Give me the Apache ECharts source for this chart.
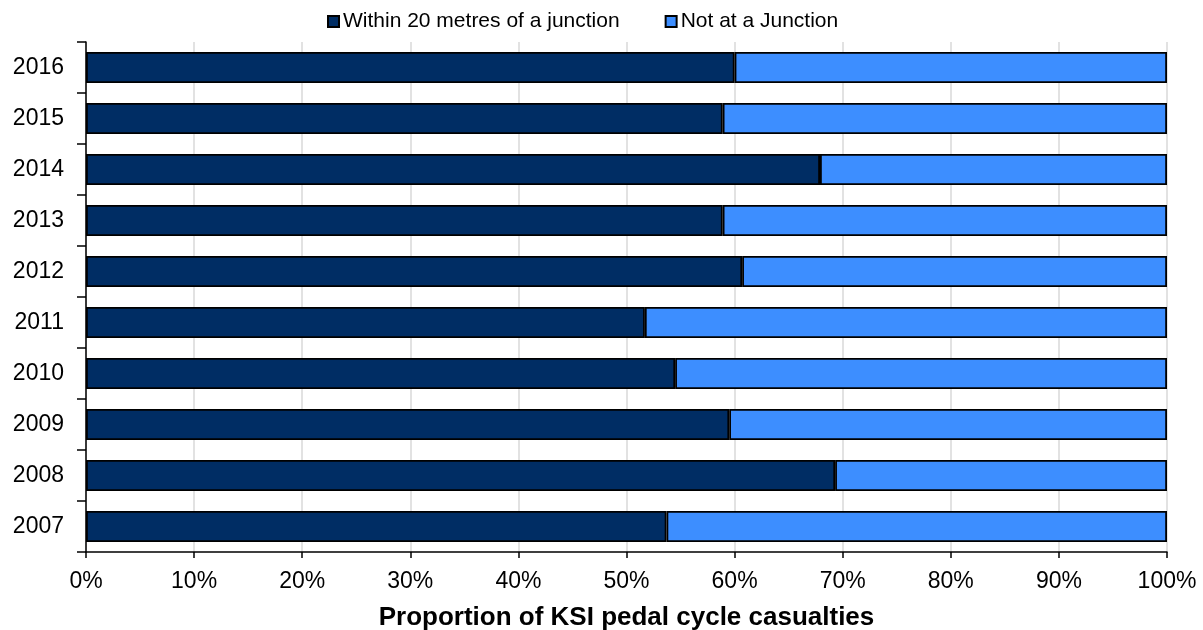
<!DOCTYPE html>
<html>
<head>
<meta charset="utf-8">
<script src="https://cdn.jsdelivr.net/npm/echarts@6/dist/echarts.min.js"></script>
<style>
  html, body { margin: 0; padding: 0; background: #ffffff; }
  #chart { width: 1203px; height: 630px; }
</style>
</head>
<body>
<div id="chart"></div>
<script>
// Years, bottom to top
const years = ['2007', '2008', '2009', '2010', '2011', '2012', '2013', '2014', '2015', '2016'];
// Share (%) of KSI pedal cycle casualties within 20 metres of a junction
const atJunction = [53.7, 69.3, 59.5, 54.5, 51.7, 60.7, 58.9, 67.9, 58.9, 60.0];
// Share (%) not at a junction
const notAtJunction = [46.3, 30.7, 40.5, 45.5, 48.3, 39.3, 41.1, 32.1, 41.1, 40.0];
const seriesNames = ['Within 20 metres of a junction', 'Not at a Junction'];
const xTicks = { min: 0, max: 100, interval: 10 };

const font = 'Liberation Sans, Arial, sans-serif';
const chart = echarts.init(document.getElementById('chart'), null, { renderer: 'canvas' });

chart.setOption({
  animation: false,
  textStyle: { fontFamily: font, color: '#000' },
  legend: {
    top: 6,
    left: 322,
    itemGap: 45,
    itemWidth: 11,
    itemHeight: 11,
    icon: 'rect',
    textStyle: { fontSize: 21, color: '#000', fontFamily: font, padding: [0, 0, 0, -1] },
    data: seriesNames
  },
  grid: { left: 86, right: 36, top: 42, bottom: 78, containLabel: false, outerBoundsMode: 'none' },
  xAxis: {
    type: 'value',
    min: xTicks.min,
    max: xTicks.max,
    interval: xTicks.interval,
    name: 'Proportion of KSI pedal cycle casualties',
    nameLocation: 'middle',
    nameGap: 53,
    nameTextStyle: { fontSize: 26, fontWeight: 'bold', color: '#000', fontFamily: font },
    axisLine: { show: true, lineStyle: { color: '#000', width: 1.5 } },
    axisTick: { show: true, length: 6, lineStyle: { color: '#000', width: 1.5 } },
    axisLabel: { formatter: '{value}%', fontSize: 23, color: '#000', margin: 18, fontFamily: font },
    splitLine: { show: true, lineStyle: { color: '#d9d9d9', width: 1.5 } }
  },
  yAxis: {
    type: 'category',
    data: years,
    axisLine: { show: true, lineStyle: { color: '#000', width: 1.5 } },
    axisTick: { show: true, length: 9, alignWithLabel: false, lineStyle: { color: '#000', width: 1.5 } },
    axisLabel: { fontSize: 23, color: '#000', margin: 22, fontFamily: font },
    splitLine: { show: false }
  },
  series: [
    {
      name: seriesNames[0],
      type: 'bar',
      stack: 'total',
      barWidth: '61%',
      data: atJunction,
      itemStyle: { color: '#002d64', borderColor: '#000', borderWidth: 1.8 }
    },
    {
      name: seriesNames[1],
      type: 'bar',
      stack: 'total',
      barWidth: '61%',
      data: notAtJunction,
      itemStyle: { color: '#3d8eff', borderColor: '#000', borderWidth: 1.8 }
    }
  ]
});
</script>
</body>
</html>
